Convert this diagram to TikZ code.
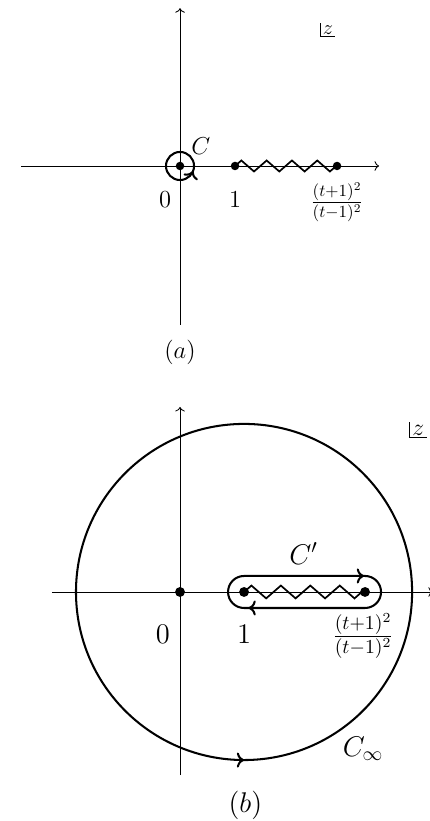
\documentclass[tikz,border=0pt]{standalone}
\usepackage{amsmath}
\usetikzlibrary{arrows.meta,decorations.markings}
\tikzset{
  axisline/.style={->,line width=0.5pt},
  contour/.style={line width=1.2pt},
  branchcut/.style={line width=1pt,line join=miter},
  pole/.style={circle,fill=black,inner sep=0pt,minimum size=5pt},
  plane/.style={inner sep=1.2pt,font=\large},
  arrowat/.style={postaction={decorate},
    decoration={markings,mark=at position #1 with {\arrow{>}}}},
  twoarrows/.style={postaction={decorate},
    decoration={markings,mark=at position 0.35 with {\arrow{>}},
      mark=at position 0.84 with {\arrow{>}}}}
}

\begin{document}
\begin{tikzpicture}[x=1.137cm,y=1.137cm,font=\Large]
  \useasboundingbox (-3.273,-11.909) rectangle (4.527,3.018);
  % (a)
  \coordinate (aW) at (-2.89,0);
  \coordinate (aE) at (3.62,0);
  \coordinate (aS) at (0,-2.89);
  \coordinate (aN) at (0,2.87);
  \draw[axisline] (aW) -- (aE);
  \draw[axisline] (aS) -- (aN);
  \node[pole] (a0) at (0,0) {};
  \node[pole] (a1) at (1,0) {};
  \node[pole] (ab) at (2.855,0) {};
  \draw[branchcut] (a1.center) \foreach \k in {1,...,4} {-- ++(0.115,0.1) -- ++(0.23,-0.2) -- ++(0.115,0.1)} -- (ab.center);
  \draw[contour,arrowat=0.94] (a0.center) ++(0.255,0) arc[start angle=0,end angle=360,radius=0.255];
  \node (aC) at (0.38,0.36) {$C$};
  \node (al0) at (-0.27,-0.62) {$0$};
  \node (al1) at (1,-0.62) {$1$};
  \node (alb) at (2.855,-0.66) {$\frac{(t+1)^2}{(t-1)^2}$};
  \node[plane] (az) at (2.69,2.47) {$z$};
  \draw[line width=0.5pt] (az.north west) -- (az.south west) -- (az.south east);
  \node (acap) at (0,-3.38) {$(a)$};
  % (b)
  \begin{scope}[shift={(0,-7.745)},scale=1.164,transform shape]
    \coordinate (bW) at (-2.0,0);
    \coordinate (bE) at (3.95,0);
    \coordinate (bS) at (0,-2.86);
    \coordinate (bN) at (0,2.89);
    \draw[axisline] (bW) -- (bE);
    \draw[axisline] (bS) -- (bN);
    \node[pole] (b0) at (0,0) {};
    \node[pole] (b1) at (1,0) {};
    \node[pole] (bb) at (2.89,0) {};
    \draw[branchcut] (b1.center) \foreach \k in {1,...,4} {-- ++(0.115,0.1) -- ++(0.23,-0.2) -- ++(0.115,0.1)} -- (bb.center);
    \draw[contour,twoarrows] (1,0.25) -- (2.89,0.25) arc[start angle=90,end angle=-90,radius=0.25]
      -- (1,-0.25) arc[start angle=270,end angle=90,radius=0.25] -- cycle;
    \draw[contour,arrowat=0.75] (3.625,0) arc[start angle=0,end angle=360,radius=2.625];
    \node (bC) at (1.93,0.6) {$C'$};
    \node (bCi) at (2.86,-2.45) {$C_\infty$};
    \node (bl0) at (-0.27,-0.66) {$0$};
    \node (bl1) at (1,-0.66) {$1$};
    \node (blb) at (2.86,-0.69) {$\frac{(t+1)^2}{(t-1)^2}$};
    \node[plane] (bz) at (3.72,2.53) {$z$};
    \draw[line width=0.5pt] (bz.north west) -- (bz.south west) -- (bz.south east);
    \node (bcap) at (1.02,-3.34) {$(b)$};
  \end{scope}
\end{tikzpicture}
\end{document}
